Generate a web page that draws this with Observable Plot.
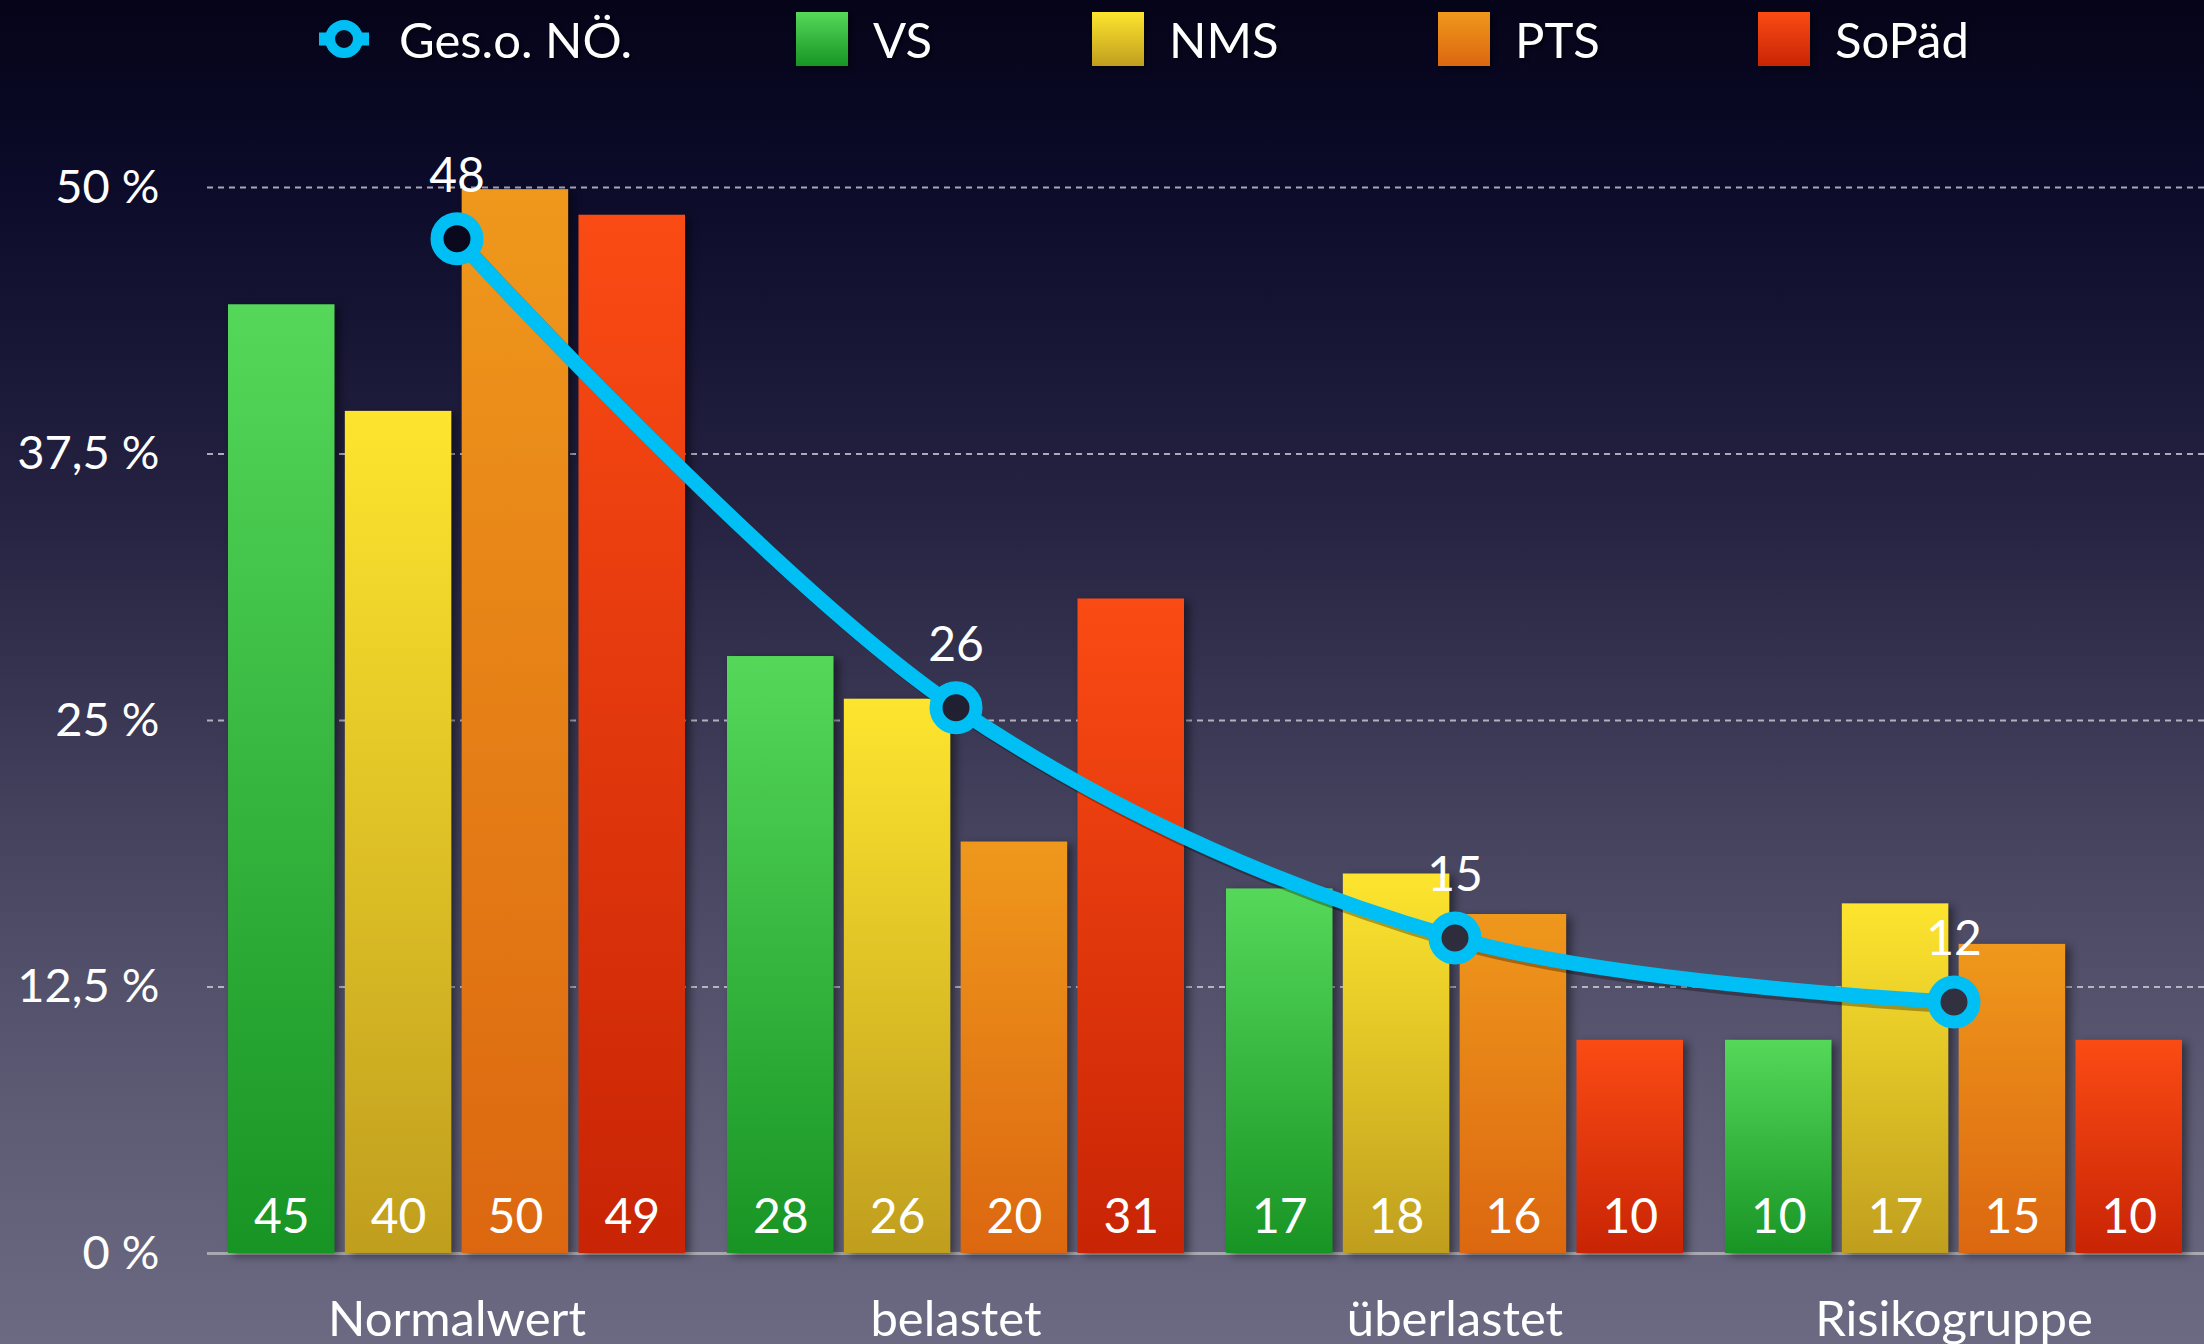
<!DOCTYPE html>
<html><head><meta charset="utf-8">
<script src="https://cdn.jsdelivr.net/npm/d3@7"></script>
<script src="https://cdn.jsdelivr.net/npm/@observablehq/plot@0.6"></script>
<style>
html,body{margin:0;padding:0;}
body{width:2204px;height:1344px;overflow:hidden;
 background:linear-gradient(to bottom,#050418 0%,#0c0b2a 14%,#272543 40%,#45435e 62%,#5d5b74 82%,#6c6a82 100%);
 font-family:Lato,"Open Sans",sans-serif;}
#legend{position:relative;width:2204px;height:90px;color:#fff;font-size:49px;}
#legend .item{position:absolute;top:0;height:78px;display:flex;align-items:center;text-shadow:2px 2px 3px rgba(0,0,0,0.5);}
#legend .sw{width:52px;height:54px;margin-right:25px;box-shadow:3px 3px 4px rgba(0,0,0,0.4);}
#chart svg{display:block;}
</style></head><body>
<div id="legend"></div>
<div id="chart"></div>
<script>
// ---- data ----
const groups = ["Normalwert", "belastet", "überlastet", "Risikogruppe"];
const seriesNames = ["VS", "NMS", "PTS", "SoPäd"];
const lineName = "Ges.o. NÖ.";
const vsValues     = [44.5, 28.0, 17.1, 10.0];
const nmsValues    = [39.5, 26.0, 17.8, 16.4];
const ptsValues    = [49.9, 19.3, 15.9, 14.5];
const sopaedValues = [48.7, 30.7, 10.0, 10.0];
const vsLabels     = [45, 28, 17, 10];
const nmsLabels    = [40, 26, 18, 17];
const ptsLabels    = [50, 20, 16, 15];
const sopaedLabels = [49, 31, 10, 10];
const gesValues    = [47.6, 25.6, 14.8, 11.8];
const gesLabels    = [48, 26, 15, 12];
const yTicks       = [0, 12.5, 25, 37.5, 50];

// ---- styles ----
const gradients = [["#55d85a", "#189424"], ["#fde52e", "#c09e1e"], ["#ef981c", "#dc6710"], ["#fb4b14", "#c82405"]];
const cyan = "#00bff5";

const seriesValues = [vsValues, nmsValues, ptsValues, sopaedValues];
const seriesLabels = [vsLabels, nmsLabels, ptsLabels, sopaedLabels];
const series = seriesNames.map((name, i) => ({
  name, id: "g" + i,
  rows: groups.map((g, j) => ({group: g, value: seriesValues[i][j], label: seriesLabels[i][j]}))
}));
const gesRows = groups.map((g, j) => ({group: g, value: gesValues[j], label: gesLabels[j]}));

// ---- legend ----
const legend = document.getElementById("legend");
const lineItem = document.createElement("div");
lineItem.className = "item";
lineItem.style.left = "309px";
lineItem.innerHTML = `<svg width="70" height="60" style="margin-right:20px;overflow:visible"><line x1="10" x2="60" y1="30" y2="30" stroke="${cyan}" stroke-width="13"/><circle cx="35" cy="30" r="14" fill="#0a0920" stroke="${cyan}" stroke-width="10"/></svg><span>${lineName}</span>`;
legend.appendChild(lineItem);
const legendLefts = [796, 1092, 1438, 1758];
series.forEach((s, i) => {
  const it = document.createElement("div");
  it.className = "item";
  it.style.left = legendLefts[i] + "px";
  it.innerHTML = `<div class="sw" style="background:linear-gradient(to bottom,${gradients[i][0]},${gradients[i][1]})"></div><span>${s.name}</span>`;
  legend.appendChild(it);
});

// ---- layout ----
const width = 2204, height = 1254;
const marginLeft = 207, marginRight = 0, marginTop = 97, marginBottom = 91;
const pInner = 0.084, pOuter = 0.042;
const step = (width - marginLeft - marginRight) / (groups.length - pInner + 2 * pOuter);
const bandwidth = step * (1 - pInner);
const gap = 10;
const bw = (bandwidth - 3 * gap) / 4;
const sub = bw + gap;

function defs() {
  const ns = "http://www.w3.org/2000/svg";
  const d = document.createElementNS(ns, "defs");
  let html = "";
  gradients.forEach((g, i) => {
    html += `<linearGradient id="g${i}" x1="0" y1="0" x2="0" y2="1"><stop offset="0" stop-color="${g[0]}"/><stop offset="1" stop-color="${g[1]}"/></linearGradient>`;
  });
  html += `<linearGradient id="hole" gradientUnits="userSpaceOnUse" x1="0" x2="0" y1="-90" y2="1254">
    <stop offset="0" stop-color="#03020e"/><stop offset="0.14" stop-color="#07061a"/><stop offset="0.4" stop-color="#17162a"/>
    <stop offset="0.62" stop-color="#292838"/><stop offset="0.82" stop-color="#363544"/><stop offset="1" stop-color="#3e3d4c"/></linearGradient>`;
  d.innerHTML = html;
  return d;
}

const marks = [
  defs,
  Plot.ruleY(yTicks.filter(t => t > 0), {stroke: "#cfcfd8", strokeOpacity: 0.8, strokeWidth: 2, strokeDasharray: "6,5"}),
  Plot.ruleY([0], {stroke: "#a9a8b0", strokeWidth: 3})
];
series.forEach((s, i) => {
  marks.push(Plot.barY(s.rows, {
    x: "group", y: "value", fill: `url(#${s.id})`,
    insetLeft: i * sub, insetRight: bandwidth - i * sub - bw, ariaLabel: "bar"
  }));
});
series.forEach((s, i) => {
  marks.push(Plot.text(s.rows, {
    x: "group", y: () => 0, text: "label", fill: "white", fontSize: 48,
    dx: i * sub + bw / 2 - bandwidth / 2, dy: -36, lineAnchor: "middle", ariaLabel: "barlabel"
  }));
});
marks.push(
  Plot.line(gesRows, {x: "group", y: "value", stroke: "black", strokeOpacity: 0.3, strokeWidth: 15, curve: "catmull-rom", dx: 4, dy: 4}),
  Plot.line(gesRows, {x: "group", y: "value", stroke: cyan, strokeWidth: 15, curve: "catmull-rom"}),
  Plot.dot(gesRows, {x: "group", y: "value", r: 20, stroke: cyan, strokeWidth: 13, fill: "url(#hole)", ariaLabel: "gesdot"}),
  Plot.text(gesRows, {x: "group", y: "value", text: "label", fill: "white", fontSize: 48, dy: -62, lineAnchor: "middle", ariaLabel: "geslabel"}),
  Plot.axisY({ticks: yTicks, tickSize: 0, tickPadding: 48, fontSize: 47,
    tickFormat: d => d.toLocaleString("de-DE") + " %", ariaLabel: "yaxis"}),
  Plot.axisX({tickSize: 0, tickPadding: 48, fontSize: 49, ariaLabel: "xaxis"})
);

const chart = Plot.plot({
  width, height, marginLeft, marginRight, marginTop, marginBottom,
  style: {background: "transparent", color: "white", fontFamily: "Lato, 'Open Sans', sans-serif", fontSize: "44px", overflow: "visible"},
  x: {type: "band", domain: groups, paddingInner: pInner, paddingOuter: pOuter, label: null, axis: null},
  y: {domain: [0, 50], label: null, axis: null},
  marks
});
document.getElementById("chart").appendChild(chart);

chart.querySelectorAll('g[aria-label="bar"]').forEach(g => g.style.filter = "drop-shadow(5px 3px 4px rgba(0,0,0,0.45))");
chart.querySelectorAll('g[aria-label="barlabel"], g[aria-label="geslabel"], g[aria-label="xaxis"], g[aria-label="yaxis"]').forEach(g => g.style.filter = "drop-shadow(2px 2px 2px rgba(0,0,0,0.55))");
chart.querySelectorAll('g[aria-label="gesdot"]').forEach(g => g.style.filter = "drop-shadow(4px 4px 4px rgba(0,0,0,0.4))");
</script>
</body></html>
